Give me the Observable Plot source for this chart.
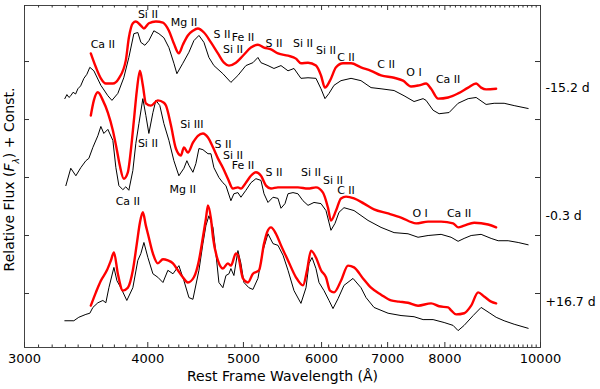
<!DOCTYPE html>
<html><head><meta charset="utf-8">
<script src="https://cdn.jsdelivr.net/npm/d3@7"></script>
<script src="https://cdn.jsdelivr.net/npm/@observablehq/plot@0.6"></script>
<style>
body{margin:0;background:#fff;}
</style>
</head><body><div id="chart"></div>
<script>
// ---- observed (black) and model (red) spectra; wavelength in Å, flux + constant ----
const obsEarlyWl = [3296,3312,3328,3342,3360,3380,3398,3420,3446,3470,3494,3527,3585,3644,3679,3730,3782,3827,3872,3908,3936,3973,4010,4057,4105,4153,4202,4251,4281,4341,4403,4454,4507,4560,4613,4667,4766,4856,4936,5029,5112,5172,5209,5295,5369,5458,5548,5626,5718,5813,5922,5992,6048,6105,6177,6278,6427,6578,6734,6893,7106,7273,7445,7604,7657,7783,7893,8079,8251,8447,8606,8808,8975,9186,9404,9716];
const obsEarlyFx = [4.36,4.43,4.38,4.41,4.47,4.44,4.53,4.58,4.71,4.78,4.90,4.84,4.59,4.41,4.33,4.45,4.72,5.07,5.48,5.50,5.33,5.28,5.36,5.53,5.48,5.41,5.24,4.97,4.79,4.97,5.16,5.36,5.45,5.33,5.07,4.93,4.79,4.64,4.76,4.93,4.98,5.07,4.98,4.93,4.88,4.93,4.84,4.88,4.71,4.72,4.71,4.53,4.36,4.45,4.59,4.67,4.71,4.67,4.55,4.53,4.50,4.41,4.31,4.36,4.33,4.16,4.10,4.12,4.28,4.36,4.38,4.26,4.28,4.28,4.24,4.19];
const modEarlyWl = [3502,3544,3585,3627,3687,3739,3800,3827,3863,3890,3936,3964,4010,4076,4144,4202,4251,4301,4341,4392,4444,4496,4560,4635,4711,4778,4834,4913,4994,5088,5172,5246,5332,5420,5548,5652,5718,5813,5922,5992,6048,6119,6206,6308,6427,6578,6734,6893,7106,7256,7393,7533,7657,7747,7875,8061,8251,8447,8606,8706,8808,9017];
const modEarlyFx = [5.14,4.90,4.71,4.62,4.62,4.71,5.02,5.41,5.66,5.69,5.62,5.57,5.66,5.69,5.67,5.53,5.31,5.14,5.29,5.45,5.53,5.57,5.50,5.33,5.14,4.98,4.93,4.98,5.10,5.24,5.29,5.24,5.21,5.14,5.10,5.05,4.97,4.98,4.93,4.76,4.55,4.67,4.90,4.97,4.97,4.90,4.84,4.76,4.72,4.67,4.57,4.59,4.62,4.53,4.36,4.38,4.45,4.55,4.62,4.55,4.52,4.53];

const obsMaxWl = [3304,3342,3382,3421,3462,3486,3519,3560,3585,3610,3644,3687,3713,3739,3774,3800,3827,3863,3890,3918,3954,3982,4010,4048,4076,4114,4153,4202,4251,4301,4352,4382,4403,4444,4475,4507,4549,4603,4635,4667,4722,4766,4800,4856,4890,4936,4971,5029,5088,5148,5209,5246,5295,5357,5420,5458,5509,5548,5613,5678,5745,5813,5895,5992,6062,6133,6191,6249,6322,6472,6687,6893,7106,7341,7515,7693,7930,8117,8251,8368,8506,8706,8912,9059,9273,9492,9716];
const obsMaxFx = [2.86,3.16,3.03,3.17,3.29,3.33,3.52,3.72,3.88,3.76,3.83,3.64,3.17,2.86,2.79,2.84,2.78,3.12,3.59,3.93,4.36,4.07,3.76,4.12,4.33,4.24,3.93,3.64,3.29,3.03,3.16,3.29,3.21,3.09,3.24,3.50,3.48,3.41,3.41,3.17,3.00,2.91,2.86,2.60,2.72,2.74,2.66,2.78,2.91,2.98,2.95,2.72,2.57,2.66,2.64,2.47,2.55,2.72,2.74,2.72,2.60,2.52,2.57,2.55,2.43,2.09,2.21,2.40,2.48,2.43,2.26,2.14,2.05,2.03,1.97,2.00,2.02,1.97,1.90,1.95,2.00,2.02,1.95,1.91,1.91,1.88,1.84];
const modMaxWl = [3502,3527,3560,3602,3644,3687,3722,3747,3782,3818,3845,3872,3899,3927,3954,3982,4029,4095,4153,4173,4222,4271,4321,4352,4392,4444,4496,4549,4603,4657,4711,4766,4822,4879,4936,4971,5029,5088,5148,5209,5270,5332,5420,5548,5678,5813,5922,6020,6090,6133,6206,6278,6352,6472,6625,6781,7007,7222,7480,7693,7930,8155,8251,8368,8566,8850,9017];
const modMaxFx = [4.07,4.33,4.47,4.33,4.12,3.81,3.47,3.21,2.98,3.09,3.47,3.98,4.50,4.84,4.59,4.28,4.24,4.33,4.29,4.24,3.90,3.50,3.38,3.52,3.43,3.60,3.72,3.76,3.69,3.52,3.33,3.17,2.98,2.81,2.83,2.81,2.91,3.03,3.09,3.03,2.86,2.81,2.83,2.83,2.83,2.81,2.83,2.74,2.48,2.26,2.43,2.64,2.67,2.64,2.55,2.45,2.38,2.31,2.21,2.24,2.24,2.21,2.14,2.17,2.22,2.19,2.14];

const obsLateWl = [3296,3366,3405,3462,3494,3519,3560,3602,3627,3653,3696,3722,3756,3809,3863,3908,3936,3964,4001,4048,4095,4144,4192,4242,4301,4352,4403,4444,4507,4549,4581,4613,4657,4689,4722,4766,4800,4834,4856,4890,4936,4971,5006,5064,5112,5172,5233,5295,5357,5420,5484,5548,5626,5718,5786,5827,5868,5922,5964,6034,6105,6162,6235,6322,6457,6578,6656,6781,7007,7222,7445,7604,7783,7986,8155,8251,8368,8546,8706,8870,9017,9186,9404,9716];
const obsLateFx = [0.53,0.53,0.59,0.64,0.66,0.76,0.84,0.88,0.84,1.10,1.45,1.22,1.10,0.88,1.10,1.57,1.69,1.88,1.62,1.34,1.28,1.19,1.40,1.34,1.48,1.22,0.93,0.90,1.40,1.86,2.17,2.34,2.14,1.69,1.19,1.10,1.31,1.34,1.43,1.31,1.74,1.52,1.19,1.10,1.07,1.26,1.74,2.03,1.86,1.83,1.66,1.40,1.05,0.83,1.10,1.52,1.62,1.43,1.19,1.05,0.88,0.74,0.91,1.14,1.26,1.10,0.93,0.76,0.66,0.62,0.60,0.55,0.55,0.50,0.45,0.36,0.45,0.62,0.76,0.67,0.59,0.53,0.47,0.40];
const modLateWl = [3502,3544,3585,3636,3670,3696,3730,3774,3818,3863,3899,3927,3954,3982,4001,4048,4095,4144,4192,4242,4291,4341,4392,4454,4507,4549,4581,4603,4635,4657,4711,4766,4822,4856,4913,4936,4994,5052,5112,5185,5246,5282,5332,5394,5458,5548,5652,5745,5800,5854,5922,5992,6062,6119,6177,6278,6382,6472,6609,6734,6893,7056,7189,7341,7515,7747,7893,8061,8117,8213,8368,8506,8646,8767,8912,9017];
const modLateFx = [0.79,1.02,1.22,1.40,1.57,1.71,1.34,1.05,1.10,1.40,1.86,2.22,2.40,2.17,2.03,1.69,1.52,1.59,1.57,1.52,1.40,1.28,1.19,1.28,1.57,1.97,2.29,2.52,2.29,1.97,1.57,1.43,1.52,1.48,1.69,1.66,1.26,1.19,1.34,1.40,1.86,2.05,2.14,2.03,1.83,1.57,1.28,1.14,1.40,1.74,1.62,1.40,1.28,1.05,1.02,1.22,1.48,1.45,1.26,1.10,0.98,0.88,0.86,0.84,0.79,0.83,0.78,0.76,0.71,0.64,0.66,0.79,1.02,0.95,0.86,0.83];

// ---- line identifications ----
const lineNames = ["Ca II","Si II","Mg II","S II","Fe II","Si II","S II","Si II","Si II","C II","C II","O I","Ca II",
                   "Si II","Ca II","Mg II","Si III","S II","Si II","Fe II","S II","Si II","Si II","C II","O I","Ca II"];
const lineWl = [3602,4001,4352,4755,4994,4879,5369,5745,6062,6352,6974,7445,8061,
                4001,3818,4341,4433,4766,4879,4994,5369,5854,6162,6352,7551,8271];
const lineFx = [5.29,5.81,5.67,5.47,5.41,5.21,5.31,5.31,5.19,5.07,4.95,4.81,4.69,
                3.59,2.59,2.79,3.91,3.57,3.38,3.21,3.09,3.09,2.95,2.78,2.38,2.38];

// ---- epochs ----
const epochNames = ["-15.2 d","-0.3 d","+16.7 d"];
const epochFx = [4.55, 2.33, 0.85];

// ---- axes ----
const xMajor = [3000,4000,5000,6000,7000,8000,10000];
const yMajor = [1,2,3,4,5];

function rows(wl, fx, id) { return wl.map((w, i) => ({wl: w, fx: fx[i], id})); }
const observed = [...rows(obsEarlyWl, obsEarlyFx, "e"), ...rows(obsMaxWl, obsMaxFx, "m"), ...rows(obsLateWl, obsLateFx, "l")];
const model = [...rows(modEarlyWl, modEarlyFx, "e"), ...rows(modMaxWl, modMaxFx, "m"), ...rows(modLateWl, modLateFx, "l")];
const labels = lineNames.map((t, i) => ({t, wl: lineWl[i], fx: lineFx[i]}));
const xMinor = d3.range(3100, 10000, 100).filter(v => !xMajor.includes(v));

const W = 600, H = 389, mL = 24, mR = 60, mT = 5, mB = 42;
const FW = W - mL - mR, FH = H - mT - mB;
const font = "DejaVu Sans, sans-serif";

const chart = Plot.plot({
  width: W, height: H,
  marginLeft: mL, marginRight: mR, marginTop: mT, marginBottom: mB,
  style: {fontFamily: font, background: "white", color: "black"},
  x: {type: "log", domain: [3000, 10000]},
  y: {domain: [0.069, 5.966], axis: null},
  marks: [
    Plot.line(observed, {x: "wl", y: "fx", z: "id", stroke: "black", strokeWidth: 1}),
    Plot.line(model, {x: "wl", y: "fx", z: "id", stroke: "#f00", strokeWidth: 2.4, curve: "monotone-x"}),
    Plot.frame({stroke: "#444", strokeWidth: 1}),
    // inward ticks
    Plot.ruleX(xMajor, {x: d => d, insetTop: FH - 5, stroke: "#333"}),
    Plot.ruleX(xMajor, {x: d => d, insetBottom: FH - 5, stroke: "#333"}),
    Plot.ruleX(xMinor, {x: d => d, insetTop: FH - 2.5, stroke: "#333"}),
    Plot.ruleX(xMinor, {x: d => d, insetBottom: FH - 2.5, stroke: "#333"}),
    Plot.ruleY(yMajor, {y: d => d, insetRight: FW - 5, stroke: "#333"}),
    Plot.ruleY(yMajor, {y: d => d, insetLeft: FW - 5, stroke: "#333"}),
    Plot.axisX(xMajor, {tickSize: 0, tickPadding: 6, tickFormat: d => String(d), fontSize: 13, label: null}),
    Plot.text(["Rest Frame Wavelength (Å)"], {text: d => d, frameAnchor: "bottom", dy: 33, fontSize: 14}),
    Plot.text(["Relative Flux (Fλ) + Const."], {text: d => d, frameAnchor: "left", textAnchor: "middle", dx: -15, dy: 3, rotate: -90, fontSize: 14, className: "ylab"}),
    Plot.text(labels, {x: "wl", y: "fx", text: "t", fontSize: 11, fill: "black"}),
    Plot.text(epochNames, {y: (d, i) => epochFx[i], text: d => d, frameAnchor: "right", dx: 5, textAnchor: "start", fontSize: 12.5})
  ]
});

// italic F with subscript lambda in the y label
const yl = chart.querySelector(".ylab text");
if (yl) {
  yl.textContent = "";
  yl.setAttribute("text-anchor", "middle");
  const ns = "http://www.w3.org/2000/svg";
  const parts = [["Relative Flux (", {}], ["F", {"font-style": "italic"}], ["λ", {"baseline-shift": "sub", "font-size": "9px", "font-style": "italic"}], [") + Const.", {}]];
  for (const [s, attrs] of parts) {
    const t = document.createElementNS(ns, "tspan");
    t.textContent = s;
    for (const k in attrs) t.setAttribute(k, attrs[k]);
    yl.appendChild(t);
  }
}
document.getElementById("chart").appendChild(chart);
</script>
</body></html>
